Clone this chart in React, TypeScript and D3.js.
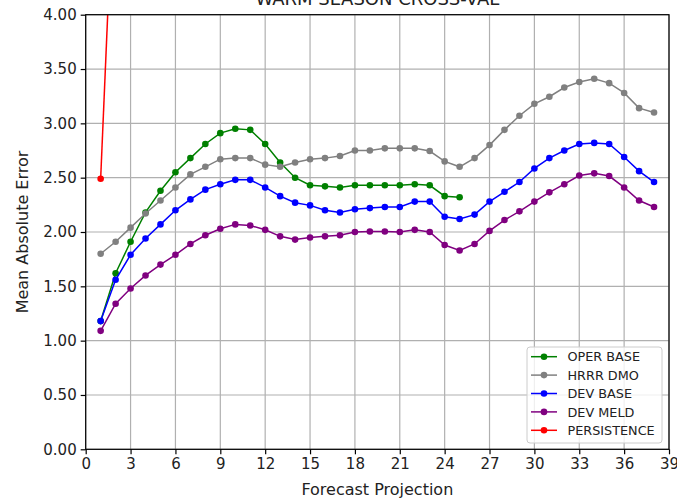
import React, { useEffect, useRef } from 'react'
import * as d3 from 'd3'

// forecast hours
const hours = d3.range(1, 39)

const operBase = [1.18, 1.62, 1.91, 2.18, 2.38, 2.55, 2.68, 2.81, 2.91, 2.95, 2.94, 2.81, 2.64,
  2.50, 2.43, 2.42, 2.41, 2.43, 2.43, 2.43, 2.43, 2.44, 2.43, 2.33, 2.32]
const hrrrDmo = [1.80, 1.91, 2.04, 2.17, 2.29, 2.41, 2.53, 2.60, 2.67, 2.68, 2.68, 2.62, 2.60,
  2.64, 2.67, 2.68, 2.70, 2.75, 2.75, 2.77, 2.77, 2.77, 2.745, 2.65, 2.60, 2.68,
  2.80, 2.94, 3.07, 3.18, 3.245, 3.33, 3.38, 3.41, 3.37, 3.28, 3.14, 3.10]
const devBase = [1.18, 1.56, 1.79, 1.94, 2.07, 2.20, 2.30, 2.39, 2.44, 2.48, 2.48, 2.41, 2.33,
  2.27, 2.245, 2.20, 2.18, 2.21, 2.22, 2.23, 2.23, 2.28, 2.28, 2.14, 2.12, 2.16,
  2.28, 2.37, 2.46, 2.585, 2.68, 2.75, 2.81, 2.82, 2.81, 2.69, 2.56, 2.46]
const devMeld = [1.09, 1.34, 1.48, 1.60, 1.70, 1.79, 1.89, 1.97, 2.03, 2.07, 2.06, 2.02, 1.96,
  1.93, 1.95, 1.96, 1.97, 2.00, 2.005, 2.005, 2.00, 2.02, 2.00, 1.88, 1.83, 1.89,
  2.01, 2.11, 2.19, 2.28, 2.365, 2.44, 2.52, 2.54, 2.515, 2.41, 2.29, 2.23]
const persistence = [2.49, 5.7]

const seriesNames = ['OPER BASE', 'HRRR DMO', 'DEV BASE', 'DEV MELD', 'PERSISTENCE']
const seriesValues = [operBase, hrrrDmo, devBase, devMeld, persistence]
const seriesColors = ['green', 'gray', 'blue', 'purple', 'red']

const xTicks = d3.range(0, 40, 3)
const yTicks = d3.range(0, 4.01, 0.5)

const W = 677
const H = 498
const FONT = 'DejaVu Sans, sans-serif'

export default function App() {
  const ref = useRef<SVGSVGElement>(null)

  useEffect(() => {
    const svg = d3.select(ref.current)
    svg.selectAll('*').remove()

    const left = 85.7, right = 669, top = 14.7, bottom = 449.3
    const x = d3.scaleLinear().domain([0, 39]).range([left, right])
    const y = d3.scaleLinear().domain([0, 4]).range([bottom, top])

    svg.append('rect').attr('width', W).attr('height', H).attr('fill', 'white')

    // grid
    svg.append('g').selectAll('line').data(xTicks).enter().append('line')
      .attr('x1', d => x(d)).attr('x2', d => x(d)).attr('y1', top).attr('y2', bottom)
      .attr('stroke', '#b0b0b0').attr('stroke-width', 1.2)
    svg.append('g').selectAll('line').data(yTicks).enter().append('line')
      .attr('x1', left).attr('x2', right).attr('y1', d => y(d)).attr('y2', d => y(d))
      .attr('stroke', '#b0b0b0').attr('stroke-width', 1.2)

    svg.append('clipPath').attr('id', 'plot-clip').append('rect')
      .attr('x', left).attr('y', top).attr('width', right - left).attr('height', bottom - top)

    const line = d3.line<number>()
      .x((d, i) => x(hours[i]))
      .y(d => y(d))

    const plot = svg.append('g').attr('clip-path', 'url(#plot-clip)')
    seriesValues.forEach((vals, k) => {
      const g = plot.append('g')
      g.append('path')
        .datum(vals)
        .attr('d', line)
        .attr('fill', 'none')
        .attr('stroke', seriesColors[k])
        .attr('stroke-width', 1.5)
      g.selectAll('circle').data(vals).enter().append('circle')
        .attr('cx', (d, i) => x(hours[i]))
        .attr('cy', d => y(d))
        .attr('r', 3.3)
        .attr('fill', seriesColors[k])
    })

    // frame
    svg.append('rect')
      .attr('x', left).attr('y', top).attr('width', right - left).attr('height', bottom - top)
      .attr('fill', 'none').attr('stroke', 'black').attr('stroke-width', 1.2)

    //axes
    const xAxis = svg.append('g')
      .attr('transform', `translate(0,${bottom})`)
      .call(d3.axisBottom(x).tickValues(xTicks).tickSize(5).tickPadding(4).tickFormat(d3.format('d')))
    const yAxis = svg.append('g')
      .attr('transform', `translate(${left},0)`)
      .call(d3.axisLeft(y).tickValues(yTicks).tickSize(5).tickPadding(4).tickFormat(d3.format('.2f')))
    ;[xAxis, yAxis].forEach(a => {
      a.select('.domain').remove()
      a.selectAll('line').attr('stroke', 'black').attr('stroke-width', 1.2)
      a.selectAll('text').attr('font-family', FONT).attr('font-size', 15).attr('fill', '#222')
    })

    svg.append('text')
      .attr('x', (left + right) / 2).attr('y', 494.5)
      .attr('text-anchor', 'middle')
      .attr('font-family', FONT).attr('font-size', 16).attr('fill', '#222')
      .text('Forecast Projection')
    svg.append('text')
      .attr('transform', `translate(27.5,${(top + bottom) / 2}) rotate(-90)`)
      .attr('text-anchor', 'middle')
      .attr('font-family', FONT).attr('font-size', 16).attr('fill', '#222')
      .text('Mean Absolute Error')
    svg.append('text')
      .attr('x', (left + right) / 2).attr('y', 5)
      .attr('text-anchor', 'middle')
      .attr('font-family', FONT).attr('font-size', 18).attr('fill', '#222')
      .text('WARM SEASON CROSS-VAL')

    // legend
    const lg = svg.append('g').attr('transform', 'translate(527,347)')
    lg.append('rect')
      .attr('width', 135).attr('height', 96).attr('rx', 3)
      .attr('fill', 'white').attr('fill-opacity', 0.8)
      .attr('stroke', '#cccccc').attr('stroke-width', 1)
    seriesNames.forEach((name, k) => {
      const yy = 9.7 + k * 18.4
      lg.append('line').attr('x1', 4).attr('x2', 30).attr('y1', yy).attr('y2', yy)
        .attr('stroke', seriesColors[k]).attr('stroke-width', 1.5)
      lg.append('circle').attr('cx', 17).attr('cy', yy).attr('r', 3.3).attr('fill', seriesColors[k])
      lg.append('text').attr('x', 40.5).attr('y', yy + 4.6)
        .attr('font-family', FONT).attr('font-size', 12.8).attr('fill', '#222')
        .text(name)
    })
  }, [])

  return (
    <svg ref={ref} width={W} height={H}
      style={{ position: 'absolute', left: 0, top: 0, display: 'block' }} />
  )
}
